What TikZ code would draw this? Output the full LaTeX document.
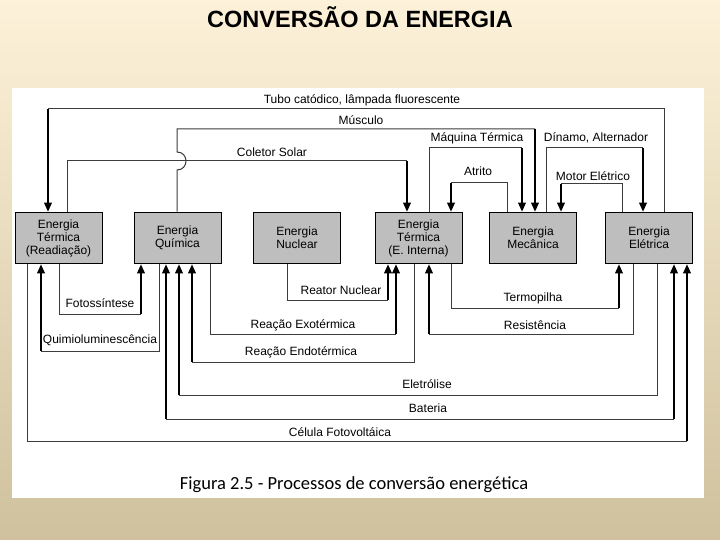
\documentclass[tikz,border=0pt]{standalone}
\usepackage{fontspec}
\setmainfont{Liberation Sans}
\newfontfamily\capfont{Carlito}
\usetikzlibrary{arrows.meta}
\definecolor{bgtop}{RGB}{253,242,217}
\definecolor{bgbot}{RGB}{207,193,157}
\definecolor{boxgray}{RGB}{190,190,190}
\definecolor{wiregray}{RGB}{60,60,60}
\tikzset{
  ebox/.style={draw=black, line width=1pt, fill=boxgray, minimum width=87pt, minimum height=51.5pt,
    align=center, inner sep=0pt, font=\fontsize{12}{13}\selectfont},
  clabel/.style={inner sep=0pt, font=\fontsize{12}{14}\selectfont},
  wireseg/.style={draw=wiregray, line width=1pt},
  arrowseg/.style={draw=black, line width=1.8pt, -{Triangle[width=7.5pt,length=9pt]}},
}
\begin{document}
\begin{tikzpicture}[x=1pt,y=-1pt]
\useasboundingbox (0,0) rectangle (720,540);
\shade[top color=bgtop, bottom color=bgbot] (0,0) rectangle (720,540);
\fill[white] (12,88) rectangle (704,498);

\node (title) at (360,17) {\fontsize{23.5}{27}\selectfont\bfseries CONVERSÃO DA ENERGIA};
\node (caption) at (354,485) {\capfont\fontsize{18.5}{22}\selectfont Figura 2.5 - Processos de conversão energética};

% boxes
\node[ebox] (b1) at (58.5,238) {Energia\\Térmica\\(Readiação)};
\node[ebox] (b2) at (177.5,238) {Energia\\Química};
\node[ebox] (b3) at (297,238) {Energia\\Nuclear};
\node[ebox] (b4) at (418.5,238) {Energia\\Térmica\\(E. Interna)};
\node[ebox] (b5) at (533,238) {Energia\\Mecânica};
\node[ebox] (b6) at (649,238) {Energia\\Elétrica};

% ---- top connectors ----
% Tubo catodico
\draw[wireseg] (b6.north -| 664,0) -- (664,109) -- (48,109);
\draw[arrowseg] (48,109) -- (b1.north -| 48,0);
\node[clabel] (lTubo) at (362,100) {Tubo catódico, lâmpada fluorescente};
% Musculo (with hop)
\draw[wireseg] (b2.north -| 177,0) -- (177,170) .. controls (189,170) and (189,152) .. (177,152) -- (177,129) -- (535,129);
\draw[arrowseg] (535,129) -- (b5.north -| 535,0);
\node[clabel] (lMusc) at (361,120) {Músculo};
% Coletor Solar
\draw[wireseg] (b1.north -| 67,0) -- (67,161) -- (407,161);
\draw[arrowseg] (407,161) -- (b4.north -| 407,0);
\node[clabel] (lCol) at (272,152) {Coletor Solar};
% Maquina Termica
\draw[wireseg] (b4.north -| 429,0) -- (429,148) -- (522,148);
\draw[arrowseg] (522,148) -- (b5.north -| 522,0);
\node[clabel] (lMaq) at (477,138) {Máquina Térmica};
% Atrito
\draw[wireseg] (b5.north -| 507,0) -- (507,183) -- (451,183);
\draw[arrowseg] (451,183) -- (b4.north -| 451,0);
\node[clabel] (lAtr) at (478,171) {Atrito};
% Dinamo
\draw[wireseg] (b5.north -| 546,0) -- (546,148) -- (643,148);
\draw[arrowseg] (643,148) -- (b6.north -| 643,0);
\node[clabel] (lDin) at (596,138) {Dínamo, Alternador};
% Motor Eletrico
\draw[wireseg] (b6.north -| 622,0) -- (622,184) -- (561,184);
\draw[arrowseg] (561,184) -- (b5.north -| 561,0);
\node[clabel] (lMot) at (593,176) {Motor Elétrico};

% ---- bottom connectors ----
% Fotossintese
\draw[wireseg] (b1.south -| 59,0) -- (59,314) -- (141,314);
\draw[arrowseg] (141,314) -- (b2.south -| 141,0);
\node[clabel] (lFot) at (100,303) {Fotossíntese};
% Quimioluminescencia
\draw[wireseg] (b2.south -| 159,0) -- (159,351) -- (41,351);
\draw[arrowseg] (41,351) -- (b1.south -| 41,0);
\node[clabel] (lQui) at (100,340) {Quimioluminescência};
% Reator Nuclear
\draw[wireseg] (b3.south -| 287,0) -- (287,300) -- (388,300);
\draw[arrowseg] (388,300) -- (b4.south -| 388,0);
\node[clabel] (lRea) at (341,290) {Reator Nuclear};
% Reacao Exotermica
\draw[wireseg] (b2.south -| 210,0) -- (210,334) -- (396,334);
\draw[arrowseg] (396,334) -- (b4.south -| 396,0);
\node[clabel] (lExo) at (303,325) {Reação Exotérmica};
% Reacao Endotermica
\draw[wireseg] (b4.south -| 414,0) -- (414,362) -- (192,362);
\draw[arrowseg] (192,362) -- (b2.south -| 192,0);
\node[clabel] (lEnd) at (301,352) {Reação Endotérmica};
% Termopilha
\draw[wireseg] (b4.south -| 451,0) -- (451,308) -- (619,308);
\draw[arrowseg] (619,308) -- (b6.south -| 619,0);
\node[clabel] (lTer) at (533,298) {Termopilha};
% Resistencia
\draw[wireseg] (b6.south -| 633,0) -- (633,334) -- (429,334);
\draw[arrowseg] (429,334) -- (b4.south -| 429,0);
\node[clabel] (lRes) at (535,325) {Resistência};
% Eletrolise
\draw[wireseg] (b6.south -| 657,0) -- (657,395) -- (179,395);
\draw[arrowseg] (179,395) -- (b2.south -| 179,0);
\node[clabel] (lEle) at (427,384) {Eletrólise};
% Bateria (both ways)
\draw[wireseg] (166,419) -- (674,419);
\draw[arrowseg] (166,419) -- (b2.south -| 166,0);
\draw[arrowseg] (674,419) -- (b6.south -| 674,0);
\node[clabel] (lBat) at (428,408) {Bateria};
% Celula Fotovoltaica
\draw[wireseg] (b1.south -| 27,0) -- (27,441) -- (687,441);
\draw[arrowseg] (687,441) -- (b6.south -| 687,0);
\node[clabel] (lCel) at (340,432) {Célula Fotovoltáica};
\end{tikzpicture}
\end{document}
